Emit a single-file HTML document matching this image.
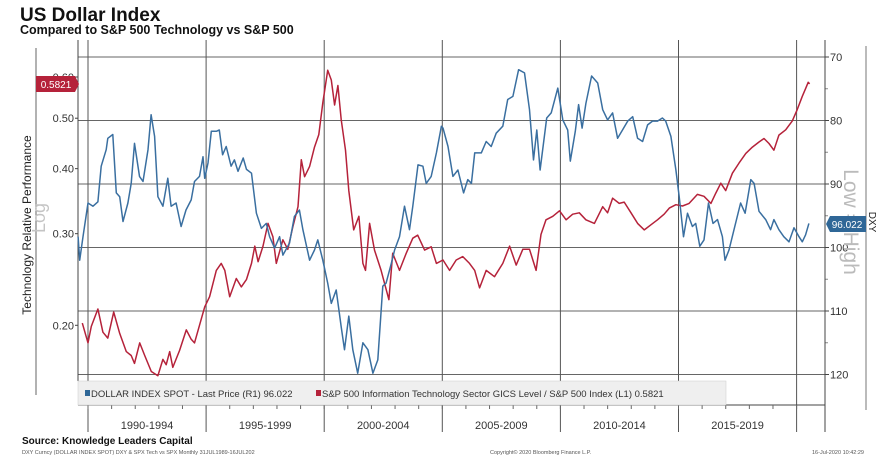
<!DOCTYPE html>
<html><head><meta charset="utf-8">
<style>
body{margin:0;background:#fff;font-family:"Liberation Sans",sans-serif;}
svg{display:block}
</style></head>
<body>
<svg id="chart" width="887" height="466" viewBox="0 0 887 466" xmlns="http://www.w3.org/2000/svg">
<text x="20" y="21" font-size="19" font-weight="bold" fill="#111">US Dollar Index</text>
<text x="20" y="34" font-size="12.5" font-weight="bold" fill="#111">Compared to S&amp;P 500 Technology vs S&amp;P 500</text>
<g id="grid"></g>
<g id="axes"></g>
<g id="series"></g>
<line x1="36" y1="48" x2="36" y2="395" stroke="#666" stroke-width="1"/>
<text transform="translate(31,225) rotate(-90)" text-anchor="middle" font-size="12" fill="#222">Technology Relative Performance</text>
<text transform="translate(45,218) rotate(-90)" text-anchor="middle" font-size="18" fill="#c4c4c4">Log</text>
<text transform="translate(844,222) rotate(90)" text-anchor="middle" font-size="21" fill="#bbb">Low = High</text>
<text transform="translate(869,222) rotate(90)" text-anchor="middle" font-size="10" fill="#222">DXY</text>
<line x1="866" y1="46" x2="866" y2="410" stroke="#777" stroke-width="1"/>
<g>
<path d="M36,76 H75 L79,84 L75,92 H36 Z" fill="#b5223a"/>
<text x="56" y="88" text-anchor="middle" font-size="10" fill="#fff">0.5821</text>
</g>
<g>
<path d="M830,216 H866 V232 H830 L826,224 Z" fill="#2f6797"/>
<text x="847" y="228" text-anchor="middle" font-size="10" fill="#fff">96.022</text>
</g>
<g>
<rect x="78" y="381" width="648" height="24" fill="#efefef" stroke="#ccc" stroke-width="0.5"/>
<rect x="85" y="390" width="5" height="6" fill="#2f6797"/>
<text x="91" y="397" font-size="9.5" fill="#333">DOLLAR INDEX SPOT - Last Price (R1) 96.022</text>
<rect x="316" y="390" width="5" height="6" fill="#b5223a"/>
<text x="322" y="397" font-size="9.5" fill="#333">S&amp;P 500 Information Technology Sector GICS Level / S&amp;P 500 Index (L1) 0.5821</text>
</g>
<text x="22" y="444" font-size="10" font-weight="bold" fill="#111">Source: Knowledge Leaders Capital</text>
<text x="22" y="454" font-size="5.5" fill="#555">DXY Curncy (DOLLAR INDEX SPOT) DXY &amp; SPX Tech vs SPX  Monthly 31JUL1989-16JUL202</text>
<text x="490" y="454" font-size="5.5" fill="#555">Copyright© 2020 Bloomberg Finance L.P.</text>
<text x="812" y="454" font-size="5.5" fill="#555">16-Jul-2020 10:42:29</text>
</svg>
<script>
const dxyTicks=[70,80,90,100,110,120];
const techTicks=[0.20,0.30,0.40,0.50,0.60];
const periodLabels=["1990-1994","1995-1999","2000-2004","2005-2009","2010-2014","2015-2019"];
const gridYears=[1990,1995,2000,2005,2010,2015,2020];
const blueYears=[1989.58,1989.65,1989.79,1990.0,1990.21,1990.42,1990.56,1990.77,1990.84,1991.05,1991.2,1991.34,1991.48,1991.69,1991.83,1991.97,1992.18,1992.33,1992.54,1992.67,1992.82,1992.96,1993.17,1993.38,1993.52,1993.73,1993.94,1994.15,1994.37,1994.51,1994.72,1994.87,1994.94,1995.08,1995.22,1995.43,1995.56,1995.70,1995.85,1996.06,1996.2,1996.35,1996.57,1996.71,1996.92,1997.13,1997.34,1997.55,1997.69,1997.9,1998.11,1998.25,1998.53,1998.74,1998.95,1999.1,1999.38,1999.59,1999.73,1999.94,2000.15,2000.3,2000.51,2000.72,2000.86,2001.04,2001.21,2001.42,2001.64,2001.85,2002.06,2002.27,2002.48,2002.62,2002.84,2002.98,2003.19,2003.4,2003.61,2003.75,2003.97,2004.18,2004.32,2004.53,2004.75,2004.96,2005.03,2005.24,2005.45,2005.66,2005.9,2006.08,2006.23,2006.37,2006.65,2006.86,2007.07,2007.28,2007.56,2007.77,2007.99,2008.23,2008.48,2008.69,2008.86,2009.0,2009.14,2009.42,2009.61,2009.89,2010.1,2010.31,2010.42,2010.63,2010.77,2010.92,2011.08,2011.32,2011.58,2011.79,2012.0,2012.21,2012.42,2012.63,2012.85,2013.06,2013.27,2013.48,2013.69,2013.9,2014.11,2014.32,2014.46,2014.68,2014.89,2015.03,2015.21,2015.38,2015.59,2015.73,2015.9,2016.08,2016.27,2016.46,2016.65,2016.86,2016.97,2017.14,2017.35,2017.63,2017.82,2018.06,2018.2,2018.41,2018.69,2018.9,2019.04,2019.25,2019.46,2019.68,2019.89,2020.1,2020.24,2020.38,2020.52];
const blueVals=[98.3,102.0,98.3,93.0,93.5,92.8,87.2,84.6,82.8,82.2,91.4,92.0,95.9,93.0,89.9,83.6,88.8,89.6,84.6,79.1,82.5,92.0,93.5,89.1,93.5,93.0,96.7,94.1,92.5,89.6,88.8,85.7,89.1,86.7,81.7,81.7,81.5,85.4,84.1,87.2,86.2,88.0,85.9,87.7,88.3,94.6,97.0,96.2,98.3,100.1,98.3,101.2,99.3,95.1,94.1,97.2,102.0,100.4,98.8,102.0,105.6,108.8,106.7,112.5,116.1,110.8,116.1,119.8,115.0,116.1,119.8,117.7,106.1,105.6,102.5,100.4,98.3,93.5,97.2,93.5,87.0,87.2,89.9,88.8,85.1,80.9,81.2,84.1,88.8,87.8,91.4,89.3,89.9,85.1,85.1,83.3,84.1,82.0,80.9,76.7,76.2,72.0,72.5,78.3,86.2,81.5,87.8,79.6,78.8,74.9,79.9,81.5,86.4,81.7,77.5,81.2,77.3,73.0,74.1,78.3,79.9,78.8,82.8,81.5,80.1,79.4,82.8,83.3,80.7,80.1,80.1,79.6,80.1,82.5,87.8,92.0,98.3,94.6,96.7,96.2,99.8,98.8,93.0,96.2,95.6,98.3,102.0,100.4,97.2,93.0,94.6,89.3,89.9,94.3,95.6,97.2,95.6,97.2,98.3,99.1,96.9,98.3,99.1,98.0,96.2];
const redYears=[1989.76,1990.0,1990.14,1990.42,1990.63,1990.84,1991.09,1991.34,1991.62,1991.83,1991.97,1992.19,1992.4,1992.68,1992.96,1993.17,1993.31,1993.46,1993.59,1993.88,1994.16,1994.37,1994.51,1994.72,1994.94,1995.15,1995.43,1995.64,1995.79,1996.0,1996.28,1996.49,1996.71,1996.92,1997.06,1997.2,1997.41,1997.62,1997.83,1997.97,1998.25,1998.46,1998.67,1998.89,1999.03,1999.17,1999.38,1999.59,1999.77,1999.94,2000.15,2000.3,2000.44,2000.58,2000.72,2000.9,2001.04,2001.25,2001.47,2001.64,2001.75,2001.92,2002.13,2002.41,2002.74,2002.9,2003.19,2003.47,2003.75,2003.96,2004.25,2004.53,2004.75,2005.03,2005.31,2005.59,2005.87,2006.15,2006.37,2006.58,2006.86,2007.21,2007.56,2007.85,2008.13,2008.41,2008.69,2008.97,2009.18,2009.39,2009.68,2009.96,2010.24,2010.52,2010.8,2011.08,2011.44,2011.79,2012.0,2012.21,2012.49,2012.7,2012.99,2013.27,2013.55,2013.83,2014.11,2014.39,2014.61,2014.89,2015.17,2015.45,2015.8,2016.08,2016.37,2016.58,2016.79,2017.0,2017.28,2017.56,2017.85,2018.13,2018.41,2018.62,2018.83,2019.04,2019.25,2019.54,2019.82,2020.03,2020.24,2020.38,2020.49,2020.55];
const redVals=[0.202,0.185,0.199,0.215,0.194,0.189,0.212,0.193,0.178,0.175,0.169,0.185,0.175,0.163,0.160,0.172,0.168,0.178,0.166,0.179,0.196,0.188,0.185,0.200,0.217,0.227,0.255,0.263,0.255,0.227,0.246,0.237,0.245,0.263,0.284,0.265,0.284,0.314,0.296,0.263,0.292,0.280,0.309,0.338,0.416,0.386,0.404,0.440,0.465,0.535,0.618,0.592,0.530,0.578,0.497,0.434,0.363,0.305,0.324,0.263,0.255,0.314,0.279,0.255,0.224,0.275,0.255,0.275,0.294,0.298,0.279,0.283,0.263,0.267,0.255,0.267,0.271,0.263,0.255,0.236,0.255,0.248,0.263,0.284,0.261,0.280,0.280,0.255,0.299,0.319,0.324,0.332,0.319,0.327,0.329,0.319,0.314,0.338,0.329,0.351,0.343,0.345,0.329,0.314,0.305,0.312,0.319,0.327,0.336,0.341,0.339,0.343,0.357,0.354,0.343,0.359,0.375,0.363,0.392,0.410,0.428,0.440,0.450,0.457,0.447,0.434,0.464,0.475,0.494,0.520,0.551,0.570,0.586,0.582];

const NS="http://www.w3.org/2000/svg";
const xOf=yr=>88+(yr-1990)*23.62;
const yR=v=>57+(v-70)*6.35;
const yL=v=>325.3-226*Math.log(v/0.2);
const PL=78,PR=825,PT=40,PB=432;
function mk(tag,attrs,parent){const e=document.createElementNS(NS,tag);for(const k in attrs)e.setAttribute(k,attrs[k]);parent.appendChild(e);return e;}
const grid=document.getElementById('grid'),axes=document.getElementById('axes'),series=document.getElementById('series');

dxyTicks.forEach(v=>{
  const y=yR(v);
  const l=mk('line',{x1:PL,x2:PR,y1:y,y2:y,stroke:'#666','stroke-width':1},grid);
  
  
  mk('line',{x1:PR,x2:PR+4,y1:y,y2:y,stroke:'#444'},axes);
  const t=mk('text',{x:PR+5,y:y+4,'font-size':11,fill:'#333'},axes);
  t.textContent=v;
  
  
});
[75,85,95,105,115].forEach(v=>{mk('line',{x1:PR,x2:PR+3,y1:yR(v),y2:yR(v),stroke:'#888'},axes);});
techTicks.forEach(v=>{
  const y=yL(v);
  mk('line',{x1:PL-3,x2:PL,y1:y,y2:y,stroke:'#444'},axes);
  const t=mk('text',{x:PL-4,y:y+4,'font-size':11,fill:'#333','text-anchor':'end'},axes);
  t.textContent=v.toFixed(2);
  
  
});
gridYears.forEach(yr=>{
  const x=xOf(yr);
  const l=mk('line',{x1:x,x2:x,y1:PT,y2:PB,stroke:'#555','stroke-width':1},grid);
  
  
});
mk('line',{x1:PL,x2:PL,y1:PT,y2:381,stroke:'#444'},axes);
mk('line',{x1:PR,x2:PR,y1:PT,y2:PB,stroke:'#444'},axes);
mk('line',{x1:PL,x2:PR,y1:405,y2:405,stroke:'#444'},axes);
for(let yr=1990;yr<=2020;yr++){mk('line',{x1:xOf(yr),x2:xOf(yr),y1:405,y2:409,stroke:'#666'},axes);}
periodLabels.forEach((lab,i)=>{
  const t=mk('text',{x:xOf(1990+i*5+2.5),y:429,'font-size':11,fill:'#333','text-anchor':'middle'},axes);
  t.textContent=lab;
  
  
});
function line(xs,ys,yf,color,name){
  const d=xs.map((x,i)=>(i?'L':'M')+xOf(x).toFixed(1)+','+yf(ys[i]).toFixed(1)).join('');
  const p=mk('path',{d:d,fill:'none',stroke:color,'stroke-width':1.5,'stroke-linejoin':'round'},series);
  
  
}
line(redYears,redVals,yL,'#b5223a','tech-relative-line');
line(blueYears,blueVals,yR,'#3a6fa0','dxy-line');
</script>
</body></html>
